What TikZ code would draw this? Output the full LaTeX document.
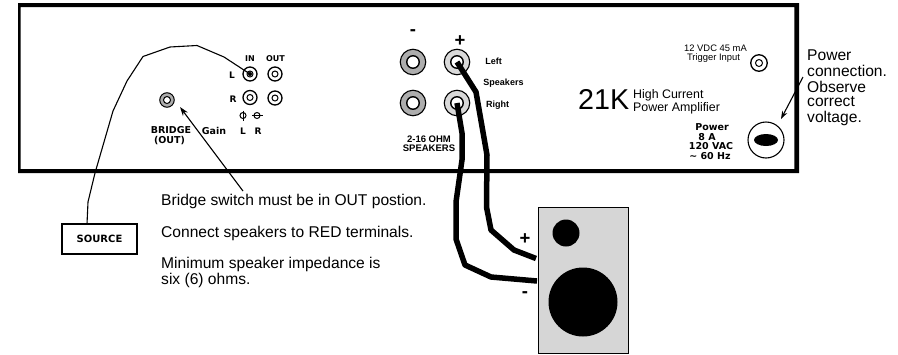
\documentclass[tikz,border=0pt]{standalone}
\usepackage{fontspec}
\setmainfont{Liberation Sans}
\newfontfamily\dv{DejaVu Sans}
\usetikzlibrary{arrows.meta,shapes.geometric}
\definecolor{termgray}{gray}{0.68}
\definecolor{termlight}{gray}{0.85}
\definecolor{spkgray}{gray}{0.84}
\tikzset{
 x=1pt,y=-1pt,
 jack/.style={circle,draw=black,line width=1.3pt,fill=white,inner sep=0pt,minimum size=#1},
 term/.style={circle,draw=black,line width=1.1pt,fill=#1,inner sep=0pt,minimum size=25.5pt},
 hole/.style={circle,draw=black,line width=1.4pt,fill=white,inner sep=0pt,minimum size=12.5pt},
 wire/.style={draw=black,line width=5.5pt,line join=bevel},
 thinwire/.style={draw=black,line width=1.1pt},
 slabel/.style={inner sep=0pt,font=\fontsize{9}{9}\selectfont\bfseries},
 blabel/.style={inner sep=0pt,font=\fontsize{#1}{9}\selectfont\dv\bfseries,align=center},
 note/.style={inner sep=0pt,anchor=west,font=\fontsize{15.6}{16}\selectfont,align=left},
 bigmark/.style={inner sep=0pt,font=\fontsize{18.5}{18.5}\selectfont\bfseries},
}
\begin{document}
\begin{tikzpicture}
\useasboundingbox (0,0) rectangle (898,354);
% panel
\fill[black,even odd rule] (18,3) rectangle (799,173) (20.7,7) rectangle (794.3,169);
% bridge jack
\node[circle,draw=black,line width=1pt,fill=termgray,minimum size=14.5pt,inner sep=0pt] (bridge) at (167,100) {};
\node[circle,draw=black,line width=1pt,fill=white,minimum size=7pt,inner sep=0pt] at (bridge) {};
\node[blabel=9.5] at (171,130.5) {BRIDGE};
\node[blabel=9.5] at (169.5,141) {(OUT)};
\node[blabel=9.5] at (214,130.5) {Gain};
% RCA
\foreach \n/\xx/\yy in {il/250/74,ol/275/74,ir/250/97.5,or/275/98}{
 \node[jack=14pt] (\n) at (\xx,\yy) {};
 \node[circle,draw=black,line width=1pt,minimum size=6pt,inner sep=0pt] at (\n) {};
}
\node[circle,fill=black,minimum size=4pt,inner sep=0pt] at (il) {};
\node[blabel=8] at (250,59) {IN};
\node[blabel=8] at (275.5,59) {OUT};
\node[blabel=9] at (232,75) {L};
\node[blabel=9] at (233,99.5) {R};
\node[blabel=9] at (243,131.5) {L};
\node[blabel=9] at (258,131.5) {R};
\node[circle,draw=black,line width=1pt,minimum size=6pt,inner sep=0pt] (ph1) at (243,115.5) {};
\draw[line width=1pt] (243,110.5) -- (243,121);
\node[circle,draw=black,line width=1pt,minimum size=6pt,inner sep=0pt] (ph2) at (257,115.5) {};
\draw[line width=1pt] (252,115.5) -- (263,115.5);
% source wire
\node[draw=black,line width=1.1pt,minimum width=75pt,minimum height=30pt,inner sep=0pt,font=\fontsize{10}{10}\selectfont\dv\bfseries] (source) at (99.5,239) {SOURCE};
\coordinate (srcTop) at (87,224);
\draw[thinwire] (il.center) -- (224,57) -- (197,45.5) -- (170,47) -- (143,56.5) -- (127,81) -- (113,111) -- (95,173) -- (88,202) -- (srcTop);
% bridge arrow
\coordinate (bridgeTail) at (243,191);
\draw[line width=1.1pt,-{Stealth[length=9pt,width=6pt]}] (bridgeTail) -- ([shift={(13,7)}]bridge.center);
% notes
\node[note] at (161,201) {Bridge switch must be in OUT postion.};
\node[note] at (161,233) {Connect speakers to RED terminals.};
\node[note] at (161,264) {Minimum speaker impedance is};
\node[note] at (161,280.5) {six (6) ohms.};
% speaker terminals
\node[term=termgray] (nl) at (413,62) {};
\node[term=termgray] (nr) at (413,103) {};
\node[term=termlight] (pl) at (457,62) {};
\node[term=termlight] (pr) at (457,103) {};
\foreach \n in {nl,nr,pl,pr}{\node[hole] at (\n) {};}
\node[bigmark] at (413,33) {-};
\node[bigmark] at (460,41) {+};
\node[slabel] at (493.5,61) {Left};
\node[slabel] at (503.5,83) {Speakers};
\node[slabel] at (497.5,105) {Right};
\node[inner sep=0pt,font=\fontsize{9.5}{8.6}\selectfont\bfseries,align=center] at (429,144) {2-16 OHM\\SPEAKERS};
% right side text
\node[inner sep=0pt,font=\fontsize{9.4}{9}\selectfont] at (715.5,48) {12 VDC 45 mA};
\node[inner sep=0pt,font=\fontsize{9.4}{9}\selectfont] at (713.5,58) {Trigger Input};
\node[jack=16.5pt] (trig) at (759,63) {};
\node[circle,draw=black,line width=1pt,minimum size=7pt,inner sep=0pt] at (trig) {};
\node[inner sep=0pt,anchor=west,font=\fontsize{28.7}{29}\selectfont] at (578,99) {21K};
\node[inner sep=0pt,anchor=west,font=\fontsize{12.4}{13}\selectfont] at (633,95) {High Current};
\node[inner sep=0pt,anchor=west,font=\fontsize{12.4}{13}\selectfont] at (633,108.5) {Power Amplifier};
\node[blabel=9.5] at (712,127) {Power};
\node[blabel=9.5] at (707,137) {8 A};
\node[blabel=9.5] at (711,146) {120 VAC};
\node[blabel=9.5] at (710,156) {\char"7E{} 60 Hz};
\node[circle,draw=black,line width=1.1pt,minimum size=36pt,inner sep=0pt] (pow) at (766,140) {};
\node[ellipse,fill=black,minimum width=24pt,minimum height=12pt,inner sep=0pt] at (pow) {};
\node[inner sep=0pt,anchor=west,font=\fontsize{15.6}{16}\selectfont] at (807,55) {Power};
\node[inner sep=0pt,anchor=west,font=\fontsize{15.6}{16}\selectfont] at (807,71) {connection.};
\node[inner sep=0pt,anchor=west,font=\fontsize{15.6}{16}\selectfont] at (807,87) {Observe};
\node[inner sep=0pt,anchor=west,font=\fontsize{15.6}{16}\selectfont] at (807,102) {correct};
\node[inner sep=0pt,anchor=west,font=\fontsize{15.6}{16}\selectfont] at (807,118) {voltage.};
\draw[line width=1.1pt,-{Stealth[length=8pt,width=5.5pt]}] (803,77) -- (781,119);
% speaker
\node[draw=black,line width=1pt,fill=spkgray,minimum width=90pt,minimum height=146pt,inner sep=0pt,anchor=north west] (spk) at (538,207) {};
\node[circle,fill=black,minimum size=27pt,inner sep=0pt] (tw) at (566,233) {};
\node[circle,fill=black,minimum size=69pt,inner sep=0pt] (wf) at (583,302) {};
\node[bigmark] at (525,239) {+};
\node[bigmark] at (525,295) {-};
% cables
\coordinate (pe) at (536,258.5);
\coordinate (ne) at (537,281);
\draw[wire] (pl.center) -- (476,92) -- (487,155) -- (486.5,207) -- (491,230) -- (514,250) -- (pe);
\draw[wire] (pr.center) -- (462,133) -- (462,160) -- (456,202) -- (456,239) -- (465,265) -- (491,277) -- (ne);
\end{tikzpicture}
\end{document}
